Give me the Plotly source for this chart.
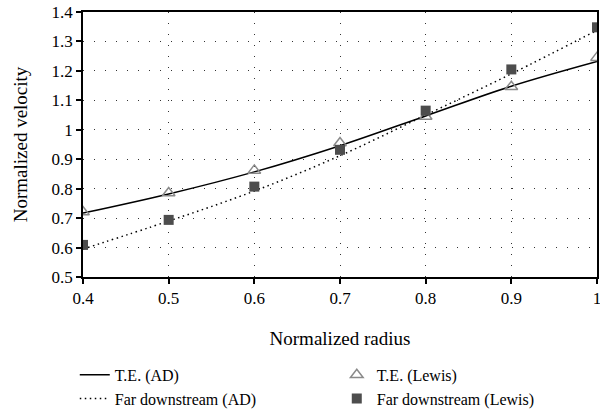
import plotly.graph_objects as go

# Normalized radius stations
radius = [0.4, 0.5, 0.6, 0.7, 0.8, 0.9, 1.0]

# Actuator-disc (AD) predictions
te_ad = [0.717, 0.782, 0.857, 0.946, 1.047, 1.148, 1.232]
far_ad = [0.595, 0.69, 0.792, 0.912, 1.05, 1.19, 1.338]

# Lewis reference values
te_lewis = [0.721, 0.785, 0.862, 0.955, 1.045, 1.146, 1.245]
far_lewis = [0.609, 0.694, 0.807, 0.932, 1.065, 1.205, 1.348]

x_ticks = [0.4, 0.5, 0.6, 0.7, 0.8, 0.9, 1.0]
x_labels = ["0.4", "0.5", "0.6", "0.7", "0.8", "0.9", "1"]
y_ticks = [0.5, 0.6, 0.7, 0.8, 0.9, 1.0, 1.1, 1.2, 1.3, 1.4]
y_labels = ["0.5", "0.6", "0.7", "0.8", "0.9", "1", "1.1", "1.2", "1.3", "1.4"]

FONT = "'Times New Roman', 'Liberation Serif', Times, serif"

fig = go.Figure()
fig.add_trace(go.Scatter(
    x=radius, y=te_ad, mode="lines", name="T.E. (AD)",
    line=dict(color="black", width=1.5, shape="spline"),
))
fig.add_trace(go.Scatter(
    x=radius, y=te_lewis, mode="markers", name="T.E. (Lewis)",
    marker=dict(symbol="triangle-up-open", size=11, color="#8a8a8a",
                line=dict(width=1.5, color="#8a8a8a")),
))
fig.add_trace(go.Scatter(
    x=radius, y=far_ad, mode="lines", name="Far downstream (AD)",
    line=dict(color="black", width=1.5, dash="1.5px,3.5px", shape="spline"),
))
fig.add_trace(go.Scatter(
    x=radius, y=far_lewis, mode="markers", name="Far downstream (Lewis)",
    marker=dict(symbol="square", size=10, color="#4d4d4d"),
))

axis_common = dict(
    showline=True, linecolor="black", linewidth=1.5, mirror=True,
    ticks="outside", ticklen=5, tickcolor="black", tickwidth=1.5,
    showgrid=True, gridcolor="#333333", gridwidth=1, griddash="1px,10px",
    zeroline=False, ticklabeloverflow="allow",
    tickfont=dict(family=FONT, size=17, color="black"),
)

fig.update_xaxes(
    range=[0.4, 1.0], tickvals=x_ticks, ticktext=x_labels,
    title=dict(text="Normalized radius", font=dict(family=FONT, size=19, color="black"),
               standoff=25),
    **axis_common,
)
fig.update_yaxes(
    range=[0.5, 1.4], tickvals=y_ticks, ticktext=y_labels,
    title=dict(text="Normalized velocity", font=dict(family=FONT, size=19, color="black"),
               standoff=19),
    **axis_common,
)

fig.update_layout(
    width=600, height=412,
    margin=dict(l=83, r=3, t=12, b=135, autoexpand=False),
    plot_bgcolor="white", paper_bgcolor="white",
    font=dict(family=FONT, size=17, color="black"),
    legend=dict(
        orientation="h", x=-0.016, xanchor="left", y=-0.305, yanchor="top",
        entrywidth=217, entrywidthmode="pixels",
        font=dict(family=FONT, size=16, color="black"),
        tracegroupgap=0, itemwidth=30,
    ),
)

fig.write_html("out.html")
